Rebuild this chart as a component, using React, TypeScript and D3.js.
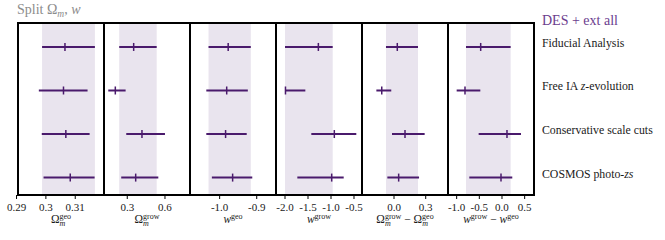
import React from "react";
import * as d3 from "d3";

// row labels (top to bottom)
const rowNames = ["Fiducial Analysis", "Free IA z-evolution", "Conservative scale cuts", "COSMOS photo-zs"];

// [low, centre, high] per row
const omegaGeo = [[0.2987, 0.3065, 0.3167], [0.2976, 0.3060, 0.3142], [0.2986, 0.3068, 0.3149], [0.2992, 0.3083, 0.3166]];
const omegaGrow = [[0.236, 0.351, 0.534], [0.149, 0.205, 0.287], [0.292, 0.417, 0.600], [0.252, 0.367, 0.547]];
const wGeo = [[-1.030, -0.977, -0.916], [-1.036, -0.981, -0.924], [-1.036, -0.984, -0.927], [-1.021, -0.965, -0.912]];
const wGrow = [[-2.0, -1.275, -0.963], [-2.0, -1.99, -1.558], [-1.428, -0.928, -0.45], [-1.732, -0.985, -0.724]];
const dOmega = [[-0.076, 0.031, 0.227], [-0.167, -0.116, -0.026], [-0.019, 0.104, 0.290], [-0.063, 0.044, 0.237]];
const dW = [[-0.794, -0.47, 0.191], [-1.0, -0.816, -0.478], [-0.515, 0.110, 0.419], [-0.721, -0.022, 0.227]];

// axis limits and ticks per panel
const domains = [[0.2905, 0.3198], [0.115, 0.799], [-1.080, -0.848], [-2.196, -0.326], [-0.303, 0.511], [-1.191, 0.706]];
const tickValues = [[0.29, 0.30, 0.31], [0.3, 0.6], [-1.0, -0.9], [-2.0, -1.5, -1.0, -0.5], [0.0, 0.3], [-1.0, -0.5, 0.0, 0.5]];
const tickLabels = [["0.29", "0.3", "0.31"], ["0.3", "0.6"], ["-1.0", "-0.9"], ["-2.0", "-1.5", "-1.0", "-0.5"], ["0.0", "0.3"], ["-1.0", "-0.5", "0.0", "0.5"]];

const panelData = [omegaGeo, omegaGrow, wGeo, wGrow, dOmega, dW];

const W = 665, H = 240;
const left = 18, panelW = 86, top = 23, bottom = 195;
const serif = "'Liberation Serif', 'DejaVu Serif', serif";
const lineColor = "#4a1a6c";
const bandColor = "#e9e4ee";
const textColor = "#1a1a1a";

// approx widths of the superscripts at 8px
const supW: any = { geo: 11.5, grow: 16.4 };

// Omega_m^sup : returns tspans; the pen ends on the subscript baseline
const om = (sup: string, key: string) => [
  <tspan key={key + "a"}>Ω</tspan>,
  <tspan key={key + "b"} dy={-4} fontSize={8}>{sup}</tspan>,
  <tspan key={key + "c"} dx={-supW[sup]} dy={7} fontSize={8} fontStyle="italic">m</tspan>,
];
const wl = (sup: string, key: string) => [
  <tspan key={key + "a"} fontStyle="italic">w</tspan>,
  <tspan key={key + "b"} dy={-4} fontSize={8}>{sup}</tspan>,
];

function axisLabel(i: number) {
  if (i === 0) return om("geo", "x");
  if (i === 1) return om("grow", "x");
  if (i === 2) return wl("geo", "x");
  if (i === 3) return wl("grow", "x");
  if (i === 4) return [...om("grow", "p"), <tspan key="m" dx={supW.grow - 5.8} dy={-3}>{" − "}</tspan>, ...om("geo", "q")];
  return [...wl("grow", "p"), <tspan key="m" dy={4}>{" − "}</tspan>, ...wl("geo", "q")];
}

function rowLabel(name: string) {
  if (name.includes("z-evolution")) {
    return [<tspan key="a">Free IA </tspan>, <tspan key="b" fontStyle="italic">z</tspan>, <tspan key="c">-evolution</tspan>];
  }
  if (name.includes("photo-zs")) {
    return [<tspan key="a">COSMOS photo-</tspan>, <tspan key="b" fontStyle="italic">zs</tspan>];
  }
  return name;
}

export default function App() {
  const y = d3.scaleLinear().domain([-0.55, 3.4]).range([top, bottom]);

  return (
    <svg width={W} height={H} style={{ position: "absolute", left: 0, top: 0 }} fontFamily={serif}>
      <text x={17} y={14} fontSize={14} fill="#8c8c8c">
        Split Ω<tspan dy={3} fontSize={9.5} fontStyle="italic">m</tspan>
        <tspan dy={-3}>, </tspan>
        <tspan fontStyle="italic">w</tspan>
      </text>

      {panelData.map((rows, i) => {
        const x0 = left + i * panelW;
        const x = d3.scaleLinear().domain(domains[i]).range([x0, x0 + panelW]);
        const band = rows[0];
        return (
          <g key={i}>
            <rect x={x(band[0])} y={top} width={x(band[2]) - x(band[0])} height={bottom - top} fill={bandColor} />
            {rows.map((r, j) => (
              <g key={j}>
                <line x1={x(r[0])} x2={x(r[2])} y1={y(j)} y2={y(j)} stroke={lineColor} strokeWidth={2} />
                <line x1={x(r[1])} x2={x(r[1])} y1={y(j) - 4} y2={y(j) + 4} stroke={lineColor} strokeWidth={1.5} />
              </g>
            ))}
            {tickValues[i].map((t, k) => (
              <g key={k}>
                <line x1={x(t)} x2={x(t)} y1={bottom} y2={bottom + 4} stroke="#000" strokeWidth={1} />
                <text x={x(t)} y={211} fontSize={11} textAnchor="middle" fill={textColor}>{tickLabels[i][k]}</text>
              </g>
            ))}
            <text x={x0 + panelW / 2} y={223} fontSize={11.5} textAnchor="middle" fill={textColor}>
              {axisLabel(i)}
            </text>
          </g>
        );
      })}

      {d3.range(7).map((k) => (
        <line key={k} x1={left + k * panelW} x2={left + k * panelW} y1={top} y2={bottom} stroke="#000" strokeWidth={2} />
      ))}
      <line x1={left - 1} x2={left + 6 * panelW + 1} y1={top} y2={top} stroke="#000" strokeWidth={2} />
      <line x1={left - 1} x2={left + 6 * panelW + 1} y1={bottom} y2={bottom} stroke="#000" strokeWidth={2} />

      <text x={542} y={25} fontSize={14} fill="#6b3d8e">DES + ext all</text>
      {rowNames.map((n, j) => (
        <text key={n} x={542} y={y(j)} fontSize={11.8} fill={textColor}>{rowLabel(n)}</text>
      ))}
    </svg>
  );
}
